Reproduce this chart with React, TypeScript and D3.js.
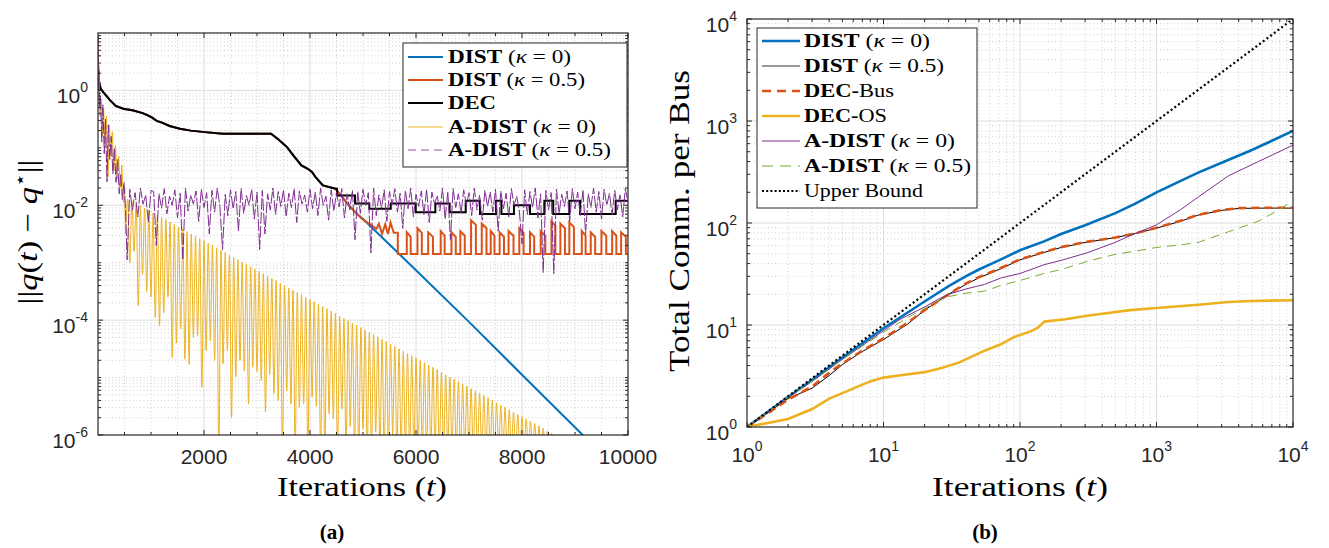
import { useRef, useEffect } from 'react';
import * as d3 from 'd3';

const W = 1329;
const H = 548;
const SANS = '"Liberation Sans", Arial, Helvetica, sans-serif';
const SERIF = '"Liberation Serif", "Times New Roman", serif';

const C = {
  blue: '#0072BD', orange: '#D95319', yellow: '#EDB120',
  purple: '#7E2F8E', green: '#77AC30', black: '#000000', axis: '#262626',
};

// ---------- (a) ||q(t) - q*|| vs iterations, values are log10 ----------
// DIST (k=0), DIST (k=0.5) and DEC share this first part
const exactHead: [number, number][] = [
  [0, 0.4], [20, 0.15], [50, 0.03], [100, -0.03], [226, -0.17], [334, -0.27],
  [478, -0.32], [671, -0.35], [855, -0.4], [1000, -0.46], [1107, -0.53],
  [1208, -0.56], [1350, -0.62], [1547, -0.667], [1750, -0.7], [2019, -0.726],
  [2355, -0.755], [3264, -0.755], [3400, -0.85], [3566, -0.987], [3700, -1.15],
  [3838, -1.307], [3950, -1.36], [4038, -1.42], [4105, -1.51], [4243, -1.655],
  [4479, -1.71],
];
const distK0Tail: [number, number][] = [
  [4479, -1.71], [4600, -1.85], [4750, -2.02], [4900, -2.16], [5000, -2.24],
  [6000, -3.13], [7000, -4.03], [8000, -4.95], [9145, -6.0], [9300, -6.15],
];
const distK05Tail: [number, number][] = [
  [4479, -1.71], [4600, -1.85], [4750, -2.02], [4900, -2.16], [4984, -2.24],
  [5100, -2.31], [5253, -2.41], [5300, -2.32], [5360, -2.5], [5420, -2.33],
  [5470, -2.5], [5520, -2.3], [5580, -2.48], [5657, -2.48],
];
const distK05Base = -2.85;
// [start, end, top] of each pulse above the base level
const distK05Pulses: [number, number, number][] = [
  [5826, 5900, -2.47], [6028, 6110, -2.4], [6230, 6320, -2.47], [6466, 6540, -2.45],
  [6669, 6750, -2.47], [6837, 6920, -2.45], [7039, 7130, -2.26], [7241, 7330, -2.32],
  [7410, 7480, -2.45], [7578, 7660, -2.47], [7747, 7840, -2.45], [7949, 8030, -2.4],
  [8151, 8230, -2.47], [8353, 8440, -2.45], [8556, 8630, -2.28], [8724, 8810, -2.32],
  [8893, 8980, -2.3], [9128, 9200, -2.45], [9297, 9380, -2.47], [9499, 9590, -2.45],
  [9701, 9780, -2.45], [9870, 9960, -2.47],
];
// DEC staircase [start iteration, level]
const decSteps: [number, number][] = [
  [4510, -1.83], [4849, -1.97], [5119, -2.06], [5523, -1.97], [5995, -2.12],
  [6365, -1.97], [6635, -2.12], [6938, -1.92], [7208, -2.15], [7511, -1.92],
  [7612, -2.15], [7848, -2.0], [8151, -2.15], [8421, -1.92], [8589, -2.15],
  [8892, -1.92], [9095, -2.15], [9768, -1.92],
];

// A-DIST (k=0)
const aDist0Head: [number, number][] = [
  [0, 1.2], [8, 0.2], [18, 0.45], [35, -0.45], [55, -0.15], [80, -0.8], [105, -0.3],
  [135, -1.0], [160, -0.45], [190, -1.5], [215, -0.6], [245, -1.15], [270, -0.72],
  [300, -1.4], [330, -0.95], [360, -1.55], [390, -1.15], [420, -1.7], [450, -1.3],
  [480, -1.95], [505, -1.7],
];
const aDist0Start = 520; // first dip
const aDist0Period = 80;
const aDist0Peaks = [
  -1.89, -1.93, -1.97, -2.01, -2.05, -2.09, -2.13, -2.17, -2.21, -2.25,
  -2.29, -2.33, -2.38, -2.42, -2.46, -2.5, -2.54, -2.58, -2.62, -2.66,
  -2.7, -2.74, -2.78, -2.82, -2.87, -2.91, -2.95, -2.99, -3.03, -3.07,
  -3.11, -3.15, -3.19, -3.23, -3.27, -3.31, -3.35, -3.4, -3.44, -3.48,
  -3.52, -3.56, -3.6, -3.64, -3.68, -3.72, -3.76, -3.8, -3.84, -3.88,
  -3.93, -3.97, -4.01, -4.05, -4.09, -4.13, -4.17, -4.21, -4.25, -4.29,
  -4.33, -4.37, -4.42, -4.46, -4.5, -4.54, -4.58, -4.62, -4.66, -4.7,
  -4.74, -4.78, -4.82, -4.86, -4.91, -4.95, -4.99, -5.03, -5.07, -5.11,
  -5.15, -5.19, -5.23, -5.27, -5.31, -5.35, -5.39, -5.44, -5.48, -5.52,
  -5.56, -5.6, -5.64, -5.68, -5.72, -5.76, -5.8, -5.84, -5.88, -5.93,
  -5.97, -6.01,
];
const aDist0Dips = [
  -2.5, -3.0, -2.8, -3.75, -3.2, -3.5, -3.6, -3.95, -4.1, -3.87,
  -3.6, -4.65, -4.4, -4.15, -4.68, -4.77, -4.3, -4.27, -5.17, -4.53,
  -4.36, -4.7, -6.3, -4.76, -4.53, -5.69, -4.99, -4.7, -4.88, -5.46,
  -4.82, -4.9, -5.05, -5.6, -4.95, -5.28, -5.4, -6.3, -5.23, -5.46,
  -6.3, -5.52, -5.46, -6.3, -5.34, -5.5, -6.3, -6.3, -5.63, -5.72,
  -6.3, -5.55, -6.3, -5.85, -6.3, -6.3, -5.9, -6.3, -6.3, -5.95,
  -6.3, -6.3, -6.3, -6.0, -6.3, -6.3, -6.3, -6.3, -6.3, -6.3,
  -6.3, -6.3, -6.3, -6.3, -6.3, -6.3, -6.3, -6.3, -6.3, -6.3,
  -6.3, -6.3, -6.3, -6.3, -6.3, -6.3, -6.3, -6.3, -6.3, -6.3,
  -6.3, -6.3, -6.3, -6.3, -6.3, -6.3, -6.3, -6.3, -6.3, -6.3,
  -6.3, -6.3, -6.3,
];

// A-DIST (k=0.5)
const aDist05Head: [number, number][] = [
  [0, 1.2], [6, 0.0], [15, 0.35], [30, -0.3], [48, -0.1], [70, -0.9], [92, -0.25],
  [118, -1.1], [142, -0.5], [170, -1.59], [195, -0.6], [222, -1.2], [250, -0.8],
  [280, -1.45], [310, -1.0], [340, -1.6], [370, -1.2], [400, -1.8], [430, -1.45],
  [460, -1.9], [490, -1.6], [520, -2.1],
];
const aDist05Start = 550;
const aDist05Step = 50;
const aDist05Noise = [
  -2.95, -1.72, -2.08, -1.78, -2.2, -1.7, -1.98, -1.82, -2.3, -1.74,
  -1.76, -2.7, -1.8, -2.05, -1.71, -2.15, -1.84, -2.0, -1.73, -2.22,
  -1.79, -2.95, -1.7, -2.1, -1.82, -1.98, -1.75, -2.28, -1.72, -2.04,
  -1.78, -2.5, -1.74, -2.12, -1.7, -2.02, -2.77, -1.81, -2.18, -1.73,
  -2.06, -1.76, -2.45, -1.71, -2.14, -1.83, -2.0, -1.72, -2.24, -1.77,
  -2.77, -1.74, -2.5, -1.8, -2.08, -1.7, -2.16, -1.76, -2.02, -1.73,
  -2.2, -1.79, -2.04, -1.71, -2.3, -1.75, -1.98, -1.82, -2.12, -1.72,
  -2.06, -1.77, -2.18, -1.7, -2.0, -1.84, -2.26, -1.73, -2.1, -1.78,
  -2.03, -1.71, -2.22, -1.8, -2.08, -1.74, -2.6, -1.76, -2.14, -1.72,
  -2.0, -1.78, -2.83, -1.7, -2.18, -1.82, -2.05, -1.73, -2.28, -1.76,
  -1.99, -1.71, -2.12, -1.79, -2.4, -1.74, -2.06, -1.7, -2.2, -1.81,
  -2.02, -1.75, -2.16, -1.72, -2.3, -1.77, -1.98, -1.83, -2.1, -1.7,
  -2.24, -1.76, -2.6, -1.71, -2.04, -1.8, -2.14, -1.73, -2.0, -1.78,
  -2.18, -1.7, -2.08, -1.82, -2.26, -1.74, -2.02, -1.77, -2.12, -1.72,
  -2.45, -1.75, -2.06, -1.79, -2.2, -1.71, -2.0, -1.84, -2.1, -2.67,
  -1.73, -2.16, -1.76, -2.04, -1.7, -2.22, -1.8, -3.17, -1.74, -2.08,
  -1.78, -3.19, -1.72, -2.14, -1.81, -2.02, -1.75, -2.28, -1.71, -2.06,
  -1.77, -2.18, -1.73, -2.5, -1.8, -2.04, -1.7, -2.12, -1.76, -2.24,
  -1.72, -2.0, -1.79, -2.16, -1.74, -2.08, -1.82, -2.2, -1.71, -1.95,
];

// ---------- (b) total communications per bus (log-log) ----------
const distK0Comm: [number, number][] = [
  [1, 1], [2, 1.97], [3, 2.9], [5, 4.8], [10, 9.3], [20, 17], [30, 24], [40, 30],
  [50, 35], [70, 43], [100, 54], [150, 66], [200, 78], [300, 95], [500, 125],
  [700, 155], [1000, 200], [2000, 310], [3000, 390], [5000, 520], [7000, 640], [10000, 800],
];
const distK05Comm: [number, number][] = [
  [1, 1], [2, 1.9], [3, 2.4], [4, 3.2], [5, 4.1], [7, 5.5], [10, 7.2], [15, 10.2],
  [20, 14], [30, 20], [40, 25], [50, 29], [70, 35], [100, 43.5], [150, 51.5],
  [200, 57.5], [300, 64.5], [500, 72], [700, 79], [1000, 89], [1500, 104],
  [2000, 119], [3000, 133], [4000, 139], [6000, 140], [10000, 140],
];
const decBusComm: [number, number][] = [
  [1, 1], [2, 1.85], [3, 2.5], [4, 3.4], [5, 4.2], [7, 5.6], [10, 7.4], [15, 10.5],
  [20, 14], [30, 20], [40, 25.5], [50, 29.5], [70, 35.5], [100, 44], [150, 52],
  [200, 58], [300, 65], [500, 72], [700, 79], [1000, 90], [1500, 105], [2000, 120],
  [3000, 134], [4000, 140], [6000, 141], [10000, 141],
];
const decOsComm: [number, number][] = [
  [1, 1], [2, 1.2], [3, 1.5], [4, 1.9], [5, 2.15], [7, 2.6], [8, 2.8], [10, 3.05],
  [13, 3.2], [20, 3.45], [27, 3.8], [36, 4.3], [55, 5.6], [73, 6.5], [90, 7.6],
  [121, 8.7], [135, 9.4], [151, 10.8], [215, 11.4], [310, 12.3], [640, 14],
  [1000, 14.7], [2026, 15.8], [3362, 16.8], [5000, 17.2], [10000, 17.5],
];
const aDistK0Comm: [number, number][] = [
  [1, 1], [2, 1.95], [3, 2.8], [5, 4.6], [7, 6.3], [10, 8.8], [13, 11.2], [17, 13.5],
  [20, 15], [25, 17.8], [30, 20], [40, 22.5], [55, 25], [73, 29], [100, 32],
  [150, 39], [200, 43], [310, 51], [490, 64], [640, 75], [1000, 96], [1500, 135],
  [2026, 180], [3362, 290], [5572, 400], [10000, 580],
];
const aDistK05Comm: [number, number][] = [
  [1, 1], [2, 1.95], [3, 2.8], [5, 4.6], [7, 6.2], [10, 8.5], [13, 10.5], [17, 13],
  [20, 14.5], [25, 17], [30, 19], [40, 20.5], [55, 21.5], [73, 24.5], [100, 27.3],
  [150, 32], [200, 35], [310, 42], [490, 49], [700, 53], [1000, 57.6], [1500, 61],
  [2026, 64.6], [3362, 82], [5572, 104], [7500, 130], [10000, 165],
];
const upperBound: [number, number][] = [[1, 1], [10000, 10000]];

type Sel = d3.Selection<any, unknown, null, undefined>;

function gridTicks(g: Sel, x: any, y: any, xMajor: number[], xMinor: number[], yMajor: number[], yMinor: number[]) {
  const [x0, x1] = x.range();
  const [y1, y0] = y.range();
  const grid = g.append('g');
  xMinor.forEach(v => grid.append('line').attr('x1', x(v)).attr('x2', x(v)).attr('y1', y0).attr('y2', y1)
    .attr('stroke', '#c4c4c4').attr('stroke-width', 0.8).attr('stroke-dasharray', '1,2.5'));
  yMinor.forEach(v => grid.append('line').attr('y1', y(v)).attr('y2', y(v)).attr('x1', x0).attr('x2', x1)
    .attr('stroke', '#c4c4c4').attr('stroke-width', 0.8).attr('stroke-dasharray', '1,2.5'));
  xMajor.forEach(v => grid.append('line').attr('x1', x(v)).attr('x2', x(v)).attr('y1', y0).attr('y2', y1)
    .attr('stroke', '#dedede').attr('stroke-width', 1));
  yMajor.forEach(v => grid.append('line').attr('y1', y(v)).attr('y2', y(v)).attr('x1', x0).attr('x2', x1)
    .attr('stroke', '#dedede').attr('stroke-width', 1));
}

function frameTicks(g: Sel, x: any, y: any, xMajor: number[], xMinor: number[], yMajor: number[], yMinor: number[]) {
  const [x0, x1] = x.range();
  const [y1, y0] = y.range();
  const f = g.append('g').attr('stroke', C.axis);
  const tick = (vals: number[], len: number) => {
    vals.forEach(v => {
      f.append('line').attr('x1', x(v)).attr('x2', x(v)).attr('y1', y1).attr('y2', y1 - len);
      f.append('line').attr('x1', x(v)).attr('x2', x(v)).attr('y1', y0).attr('y2', y0 + len);
    });
  };
  const ytick = (vals: number[], len: number) => {
    vals.forEach(v => {
      f.append('line').attr('y1', y(v)).attr('y2', y(v)).attr('x1', x0).attr('x2', x0 + len);
      f.append('line').attr('y1', y(v)).attr('y2', y(v)).attr('x1', x1).attr('x2', x1 - len);
    });
  };
  tick(xMajor, 5); tick(xMinor, 3); ytick(yMajor, 5); ytick(yMinor, 3);
  f.append('rect').attr('x', x0).attr('y', y0).attr('width', x1 - x0).attr('height', y1 - y0)
    .attr('fill', 'none').attr('stroke-width', 1.2);
}

function powLabel(g: Sel, px: number, py: number, exp: string, anchor: string) {
  const t = g.append('text').attr('x', px).attr('y', py).attr('text-anchor', anchor)
    .attr('font-family', SANS).attr('font-size', 21).attr('fill', C.axis);
  t.append('tspan').text('10');
  t.append('tspan').attr('dy', -11).attr('font-size', 14).text(exp);
}

function logMinors(lo: number, hi: number, majors: number[]) {
  const out: number[] = [];
  for (let e = lo; e < hi; e++) {
    for (let k = 1; k < 10; k++) {
      const v = k * 10 ** e;
      if (!majors.some(m => Math.abs(m - v) / m < 1e-9) && !(k === 1 && e === lo)) out.push(v);
    }
  }
  return out;
}

type Entry = { color: string; width: number; dash?: string; parts: [string, string][]; len: number };

function legend(g: Sel, box: [number, number, number, number], rowY: number[], lineX: [number, number], textX: number, entries: Entry[]) {
  const [bx0, by0, bx1, by1] = box;
  const lg = g.append('g');
  lg.append('rect').attr('x', bx0).attr('y', by0).attr('width', bx1 - bx0).attr('height', by1 - by0)
    .attr('fill', '#fff').attr('stroke', C.axis).attr('stroke-width', 1);
  entries.forEach((e, i) => {
    const ry = rowY[i];
    lg.append('line').attr('x1', lineX[0]).attr('x2', lineX[1]).attr('y1', ry).attr('y2', ry)
      .attr('stroke', e.color).attr('stroke-width', e.width).attr('stroke-dasharray', e.dash || null);
    const t = lg.append('text').attr('x', textX).attr('y', ry + 6).attr('font-family', SERIF)
      .attr('font-size', 18).attr('fill', '#000')
      .attr('textLength', e.len).attr('lengthAdjust', 'spacingAndGlyphs');
    e.parts.forEach(([s, style]) => {
      const sp = t.append('tspan').text(s);
      if (style === 'b') sp.attr('font-weight', 'bold');
      if (style === 'i') sp.attr('font-style', 'italic');
    });
  });
}

const kappa = (v: string): [string, string][] => [[' (', 'r'], ['κ', 'i'], [` = ${v})`, 'r']];

function drawErrorPanel(svg: Sel) {
  const x = d3.scaleLinear().domain([0, 10000]).range([98, 628]);
  const y = d3.scaleLog().domain([1e-6, 10]).range([435, 33]);
  const g = svg.append('g');
  const xMajor = [2000, 4000, 6000, 8000];
  const xMinor = d3.range(500, 10000, 500).filter(v => v % 2000 !== 0);
  const yMajor = [1e-4, 1e-2, 1];
  const yMinor = logMinors(-6, 1, [1e-6, 1e-4, 1e-2, 1]);
  gridTicks(g, x, y, xMajor, xMinor, yMajor, yMinor);

  svg.append('clipPath').attr('id', 'clipA').append('rect')
    .attr('x', 98).attr('y', 33).attr('width', 530).attr('height', 402);
  const plot = g.append('g').attr('clip-path', 'url(#clipA)');
  const line = d3.line<[number, number]>().x(d => x(d[0])).y(d => y(10 ** d[1]));

  const blue = [...exactHead, ...distK0Tail];
  const orange: [number, number][] = [...exactHead, ...distK05Tail, [5657, distK05Base]];
  distK05Pulses.forEach(([s, e, p]) => {
    orange.push([s, distK05Base], [s, p], [e, p - 0.08], [e, distK05Base]);
  });
  orange.push([10000, distK05Base]);
  const dec: [number, number][] = [...exactHead];
  let last = exactHead[exactHead.length - 1][1];
  decSteps.forEach(([t, v]) => { dec.push([t, last], [t, v]); last = v; });
  dec.push([10000, last]);

  const yellowArches: [number, number][] = [];
  aDist0Peaks.forEach((p, k) => {
    yellowArches.push([aDist0Start + aDist0Period * k, aDist0Dips[k]]);
    yellowArches.push([aDist0Start + aDist0Period * k + aDist0Period / 2, p]);
  });
  yellowArches.push([aDist0Start + aDist0Period * aDist0Peaks.length, aDist0Dips[aDist0Dips.length - 1]]);

  const purple: [number, number][] = [...aDist05Head];
  aDist05Noise.forEach((v, i) => purple.push([aDist05Start + aDist05Step * i, v]));

  plot.append('path').attr('d', line(blue)).attr('fill', 'none').attr('stroke', C.blue).attr('stroke-width', 2);
  plot.append('path').attr('d', line(orange)).attr('fill', 'none').attr('stroke', C.orange).attr('stroke-width', 2);
  plot.append('path').attr('d', line(dec)).attr('fill', 'none').attr('stroke', C.black).attr('stroke-width', 2);
  plot.append('path').attr('d', line([...aDist0Head, yellowArches[0]])).attr('fill', 'none')
    .attr('stroke', C.yellow).attr('stroke-width', 1);
  const arch = d3.line<[number, number]>().x(d => x(d[0])).y(d => y(10 ** d[1])).curve(d3.curveMonotoneX);
  plot.append('path').attr('d', arch(yellowArches)).attr('fill', 'none').attr('stroke', C.yellow).attr('stroke-width', 1);
  plot.append('path').attr('d', line(purple)).attr('fill', 'none').attr('stroke', C.purple)
    .attr('stroke-width', 1).attr('stroke-dasharray', '12,2');

  frameTicks(g, x, y, [...xMajor, 10000], xMinor, [1e-6, ...yMajor], yMinor);

  [2000, 4000, 6000, 8000, 10000].forEach(v => {
    g.append('text').attr('x', x(v)).attr('y', 464).attr('text-anchor', 'middle')
      .attr('font-family', SANS).attr('font-size', 21).attr('fill', C.axis).text(String(v));
  });
  [[1, '0'], [1e-2, '-2'], [1e-4, '-4'], [1e-6, '-6']].forEach(([v, e]) => {
    powLabel(g, 88, y(v as number) + 13, e as string, 'end');
  });

  g.append('text').attr('x', 362).attr('y', 496).attr('text-anchor', 'middle')
    .attr('font-family', SERIF).attr('font-size', 28).attr('textLength', 170)
    .attr('lengthAdjust', 'spacingAndGlyphs')
    .call(t => { t.append('tspan').text('Iterations ('); t.append('tspan').attr('font-style', 'italic').text('t'); t.append('tspan').text(')'); });

  const yl = g.append('text').attr('transform', 'translate(37,232) rotate(-90)').attr('text-anchor', 'middle')
    .attr('font-family', SERIF).attr('font-size', 28).attr('textLength', 145).attr('lengthAdjust', 'spacingAndGlyphs');
  yl.append('tspan').text('||');
  yl.append('tspan').attr('font-style', 'italic').text('q');
  yl.append('tspan').text('(');
  yl.append('tspan').attr('font-style', 'italic').text('t');
  yl.append('tspan').text(') − ');
  yl.append('tspan').attr('font-style', 'italic').text('q');
  yl.append('tspan').attr('dy', -11).attr('font-size', 18).text('⋆');
  yl.append('tspan').attr('dy', 11).text('||');

  legend(g, [403, 43, 627, 167], [57, 80, 103, 127, 150], [408, 443], 448, [
    { color: C.blue, width: 2, parts: [['DIST', 'b'], ...kappa('0')], len: 123 },
    { color: C.orange, width: 2, parts: [['DIST', 'b'], ...kappa('0.5')], len: 137 },
    { color: C.black, width: 2, parts: [['DEC', 'b']], len: 48 },
    { color: C.yellow, width: 1, parts: [['A-DIST', 'b'], ...kappa('0')], len: 148 },
    { color: '#b48cc2', width: 1.5, dash: '8,5', parts: [['A-DIST', 'b'], ...kappa('0.5')], len: 163 },
  ]);

  g.append('text').attr('x', 332).attr('y', 539).attr('text-anchor', 'middle')
    .attr('font-family', SERIF).attr('font-weight', 'bold').attr('font-size', 21).text('(a)');
}

function drawCommPanel(svg: Sel) {
  const x = d3.scaleLog().domain([1, 1e4]).range([747, 1293]);
  const y = d3.scaleLog().domain([1, 1e4]).range([427, 19]);
  const g = svg.append('g');
  const major = [10, 100, 1000];
  const minor = logMinors(0, 4, [1, 10, 100, 1000, 10000]);
  gridTicks(g, x, y, major, minor, major, minor);

  svg.append('clipPath').attr('id', 'clipB').append('rect')
    .attr('x', 747).attr('y', 19).attr('width', 546).attr('height', 408);
  const plot = g.append('g').attr('clip-path', 'url(#clipB)');
  const line = d3.line<[number, number]>().x(d => x(d[0])).y(d => y(d[1]));
  const draw = (data: [number, number][], color: string, width: number, dash?: string) =>
    plot.append('path').attr('d', line(data)).attr('fill', 'none').attr('stroke', color)
      .attr('stroke-width', width).attr('stroke-dasharray', dash || null);

  draw(distK0Comm, C.blue, 2.6);
  draw(distK05Comm, C.black, 1);
  draw(decBusComm, C.orange, 2.6, '8,5');
  draw(decOsComm, C.yellow, 2.6);
  draw(aDistK0Comm, C.purple, 1);
  draw(aDistK05Comm, C.green, 1, '9,6');
  draw(upperBound, C.black, 2.2, '2,2.6');

  frameTicks(g, x, y, [1, ...major, 10000], minor, [1, ...major, 10000], minor);

  [1, 10, 100, 1000, 10000].forEach((v, i) => {
    powLabel(g, x(v), 462, String(i), 'middle');
    powLabel(g, 737, y(v) + 13, String(i), 'end');
  });

  g.append('text').attr('x', 1020).attr('y', 496).attr('text-anchor', 'middle')
    .attr('font-family', SERIF).attr('font-size', 28).attr('textLength', 176)
    .attr('lengthAdjust', 'spacingAndGlyphs')
    .call(t => { t.append('tspan').text('Iterations ('); t.append('tspan').attr('font-style', 'italic').text('t'); t.append('tspan').text(')'); });

  g.append('text').attr('transform', 'translate(689,221) rotate(-90)').attr('text-anchor', 'middle')
    .attr('font-family', SERIF).attr('font-size', 29).attr('textLength', 302)
    .attr('lengthAdjust', 'spacingAndGlyphs').text('Total Comm. per Bus');

  legend(g, [757, 28, 977, 208], [41, 66, 91, 116, 141, 166, 191], [762, 800], 804, [
    { color: C.blue, width: 2.6, parts: [['DIST', 'b'], ...kappa('0')], len: 126 },
    { color: '#333', width: 1.2, parts: [['DIST', 'b'], ...kappa('0.5')], len: 140 },
    { color: C.orange, width: 2.6, dash: '9,6', parts: [['DEC-', 'b'], ['Bus', 'r']], len: 90 },
    { color: C.yellow, width: 2.6, parts: [['DEC-', 'b'], ['OS', 'r']], len: 83 },
    { color: C.purple, width: 1.2, parts: [['A-DIST', 'b'], ...kappa('0')], len: 151 },
    { color: C.green, width: 1.2, dash: '11,7', parts: [['A-DIST', 'b'], ...kappa('0.5')], len: 167 },
    { color: C.black, width: 2.2, dash: '2,2.2', parts: [['Upper Bound', 'r']], len: 119 },
  ]);

  g.append('text').attr('x', 985).attr('y', 539).attr('text-anchor', 'middle')
    .attr('font-family', SERIF).attr('font-weight', 'bold').attr('font-size', 21).text('(b)');
}

export default function App() {
  const ref = useRef<SVGSVGElement>(null);
  useEffect(() => {
    const svg = d3.select(ref.current) as unknown as Sel;
    svg.selectAll('*').remove();
    svg.append('rect').attr('width', W).attr('height', H).attr('fill', '#fff');
    drawErrorPanel(svg);
    drawCommPanel(svg);
  }, []);
  return <svg ref={ref} width={W} height={H} style={{ position: 'absolute', left: 0, top: 0 }} />;
}
